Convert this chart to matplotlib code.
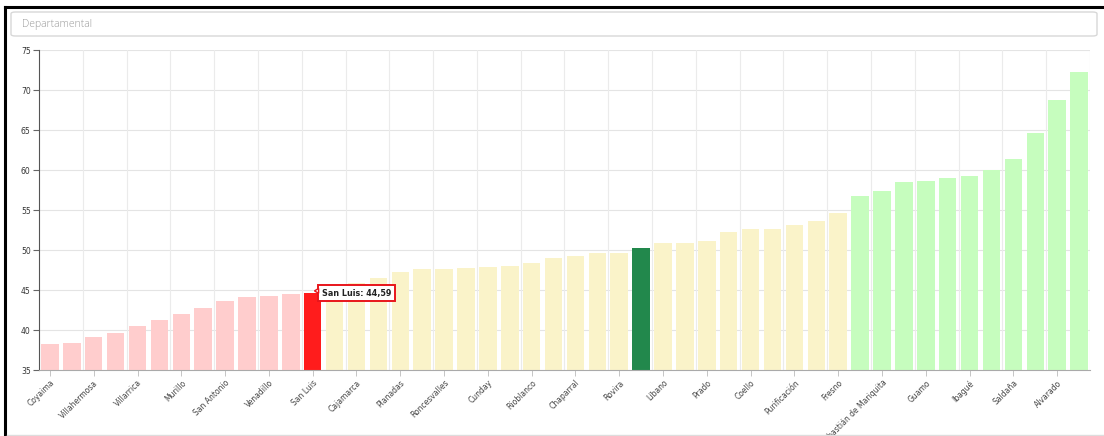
import matplotlib
matplotlib.use("Agg")
import matplotlib.pyplot as plt
from matplotlib.patches import FancyBboxPatch, Polygon
from matplotlib.lines import Line2D

# valores por municipio (ordenados), 48 barras
valores = [38.26, 38.34, 39.10, 39.60, 40.50, 41.27, 42.00, 42.77, 43.60, 44.10,
           44.27, 44.44, 44.59, 45.30, 45.86, 46.44, 47.28, 47.60, 47.60, 47.74,
           47.82, 47.99, 48.37, 48.99, 49.24, 49.58, 49.58, 50.20, 50.83, 50.83,
           51.08, 52.25, 52.67, 52.67, 53.17, 53.63, 54.63, 56.72, 57.35, 58.56,
           58.60, 58.98, 59.27, 60.06, 61.32, 64.57, 68.78, 72.28]

# grupo de color de cada barra
grupos = (["bajo"] * 12 + ["sel"] + ["medio"] * 14 + ["dep"] + ["medio"] * 9
          + ["alto"] * 11)

# etiquetas visibles (una de cada dos barras)
etiquetas = ["Coyaima", "Villahermosa", "Villarrica", "Murillo", "San Antonio",
             "Venadillo", "San Luis", "Cajamarca", "Planadas", "Roncesvalles",
             "Cunday", "Rioblanco", "Chaparral", "Rovira", "Líbano", "Prado",
             "Coello", "Purificación", "Fresno", "San Sebastián de Mariquita",
             "Guamo", "Ibagué", "Saldaña", "Alvarado"]

colores = {"bajo": "#ffcdcd", "sel": "#ff1c1c", "medio": "#faf3c9",
           "dep": "#22884c", "alto": "#c6fdbe"}

W, H = 1104, 436
fig = plt.figure(figsize=(W / 100, H / 100), dpi=100)

# marco exterior y cabecera
fig.add_artist(Line2D([5 / W, 1], [1 - 7 / H, 1 - 7 / H], color="black", lw=2.2))
fig.add_artist(Line2D([5.5 / W, 5.5 / W], [0, 1 - 7 / H], color="black", lw=2.2))
fig.add_artist(Line2D([7 / W, 1], [1.5 / H, 1.5 / H], color="#dddddd", lw=1))
fig.add_artist(FancyBboxPatch((11 / W, 1 - 36 / H), 1086 / W, 24 / H,
                              boxstyle="round,pad=0,rounding_size=0.004",
                              fc="white", ec="#d8d8d8", lw=1,
                              transform=fig.transFigure))
fig.text(22 / W, 1 - 24 / H, "Departamental", fontsize=7.5, color="#9a9a9a",
         family="Open Sans", weight="light", va="center")

ax = fig.add_axes([39 / W, 66 / H, 1051 / W, 320 / H])
x = list(range(len(valores)))
ax.bar(x, valores, width=0.8, color=[colores[g] for g in grupos], zorder=2)

ax.set_xlim(-0.5, len(valores) - 0.5)
ax.set_ylim(35, 75)
ax.set_yticks(range(35, 80, 5))
ax.set_xticks(range(0, len(valores), 2))
ax.set_xticklabels(etiquetas, rotation=45, ha="right", rotation_mode="anchor",
                   fontsize=5.5, color="#444444")
ax.tick_params(axis="y", labelsize=5.5, labelcolor="#333333", length=4,
               width=0.8, color="#666666", pad=2)
ax.tick_params(axis="x", length=4, width=0.6, color="#bbbbbb", pad=2)

# rejilla
for v in range(40, 80, 5):
    ax.axhline(v, color="#e4e4e4", lw=0.8, zorder=1)
for i in range(2, len(valores), 2):
    ax.axvline(i - 0.5, color="#ebebeb", lw=0.8, zorder=1)
ax.axvline(len(valores) - 0.5, color="#e4e4e4", lw=0.8, zorder=1)

for s in ["top", "right"]:
    ax.spines[s].set_visible(False)
ax.spines["left"].set_color("#555555")
ax.spines["left"].set_linewidth(0.8)
ax.spines["bottom"].set_color("#aaaaaa")
ax.spines["bottom"].set_linewidth(0.8)

# tooltip de San Luis
i_sel = grupos.index("sel")
ax.text(i_sel + 0.42, valores[i_sel], "San Luis: 44,59", fontsize=5.8,
        weight="bold", color="#222222", va="center", ha="left", zorder=6,
        bbox=dict(boxstyle="square,pad=0.45", fc="white", ec="#e8151b", lw=1.4))
ax.add_patch(Polygon([[i_sel + 0.08, valores[i_sel] + 0.3],
                      [i_sel + 0.27, valores[i_sel] + 0.6],
                      [i_sel + 0.27, valores[i_sel] + 0.0]],
                     closed=True, fc="white", ec="#e8151b", lw=1.0, zorder=7))

fig.savefig("out.png", dpi=100)
